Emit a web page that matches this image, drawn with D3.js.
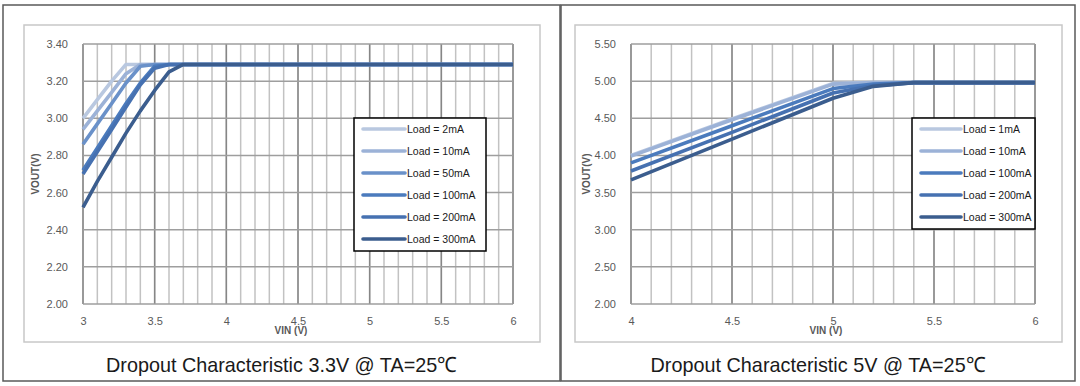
<!DOCTYPE html>
<html lang="en">
<head>
  <meta charset="UTF-8" />
  <title>Dropout Characteristic</title>
  <script src="https://d3js.org/d3.v7.min.js"></script>
  <style>
    html, body {
      margin: 0;
      padding: 0;
      background: #fff;
      font-family: "Liberation Sans", Arial, sans-serif;
    }
    svg {
      display: block;
    }
    .tick text {
      fill: #595959;
      font-size: 11px;
    }
  </style>
</head>
<body>
<svg width="1080" height="386"></svg>
<script>
  // ---- 3.3V chart data: [VIN, VOUT] points per load ----
  const labels33 = ["Load = 2mA", "Load = 10mA", "Load = 50mA", "Load = 100mA", "Load = 200mA", "Load = 300mA"];
  const load33_2mA   = [[3.0, 3.00], [3.1, 3.10], [3.2, 3.20], [3.3, 3.29], [6.0, 3.29]];
  const load33_10mA  = [[3.0, 2.94], [3.1, 3.04], [3.2, 3.14], [3.3, 3.24], [3.4, 3.29], [6.0, 3.29]];
  const load33_50mA  = [[3.0, 2.86], [3.1, 2.97], [3.2, 3.08], [3.3, 3.19], [3.4, 3.28], [3.5, 3.29], [6.0, 3.29]];
  const load33_100mA = [[3.0, 2.72], [3.1, 2.84], [3.2, 2.96], [3.3, 3.08], [3.4, 3.19], [3.5, 3.28], [3.6, 3.29], [6.0, 3.29]];
  const load33_200mA = [[3.0, 2.70], [3.1, 2.82], [3.2, 2.94], [3.3, 3.06], [3.4, 3.18], [3.5, 3.27], [3.6, 3.29], [6.0, 3.29]];
  const load33_300mA = [[3.0, 2.52], [3.1, 2.66], [3.2, 2.79], [3.3, 2.92], [3.4, 3.04], [3.5, 3.15], [3.6, 3.25], [3.7, 3.29], [6.0, 3.29]];

  // ---- 5V chart data ----
  const labels5 = ["Load = 1mA", "Load = 10mA", "Load = 100mA", "Load = 200mA", "Load = 300mA"];
  const load5_1mA   = [[4.0, 4.00], [4.5, 4.49], [5.0, 4.97], [5.2, 4.98], [6.0, 4.98]];
  const load5_10mA  = [[4.0, 3.99], [4.5, 4.48], [5.0, 4.96], [5.2, 4.98], [6.0, 4.98]];
  const load5_100mA = [[4.0, 3.90], [4.5, 4.40], [5.0, 4.90], [5.2, 4.96], [5.4, 4.98], [6.0, 4.98]];
  const load5_200mA = [[4.0, 3.79], [4.5, 4.31], [5.0, 4.84], [5.2, 4.94], [5.4, 4.98], [6.0, 4.98]];
  const load5_300mA = [[4.0, 3.67], [4.5, 4.22], [5.0, 4.77], [5.2, 4.93], [5.4, 4.98], [6.0, 4.98]];

  const colors33 = ["#b9c8e0", "#9cb2d7", "#6a91c9", "#4b7bbd", "#4671b1", "#3b5d8e"];
  const colors5  = ["#b9c8e0", "#9cb2d7", "#4b7bbd", "#4671b1", "#3b5d8e"];

  const svg = d3.select("svg");

  function drawPanel(opt) {
    const g = svg.append("g");

    // outer panel border + inner chart frame
    g.append("rect")
      .attr("x", opt.panel[0]).attr("y", opt.panel[1])
      .attr("width", opt.panel[2]).attr("height", opt.panel[3])
      .attr("fill", "#fff").attr("stroke", "#595959").attr("stroke-width", 1.5);
    g.append("rect")
      .attr("x", opt.frame[0]).attr("y", opt.frame[1])
      .attr("width", opt.frame[2]).attr("height", opt.frame[3])
      .attr("fill", "#fff").attr("stroke", "#c8c8c8").attr("stroke-width", 1.5);

    const x = d3.scaleLinear().domain(opt.xDomain).range([opt.plot[0], opt.plot[1]]);
    const y = d3.scaleLinear().domain(opt.yDomain).range([opt.plot[3], opt.plot[2]]);

    // gridlines
    const grid = g.append("g");
    grid.selectAll(".vminor")
      .data(x.ticks(opt.minorCount))
      .join("line")
      .attr("x1", d => x(d)).attr("x2", d => x(d))
      .attr("y1", y.range()[0]).attr("y2", y.range()[1])
      .attr("stroke", "#c2c2c2").attr("stroke-width", 1.5);
    grid.selectAll(".vmajor")
      .data(x.ticks(opt.majorCount))
      .join("line")
      .attr("x1", d => x(d)).attr("x2", d => x(d))
      .attr("y1", y.range()[0]).attr("y2", y.range()[1])
      .attr("stroke", "#868686").attr("stroke-width", 1.5);
    grid.selectAll(".hline")
      .data(y.ticks(7))
      .join("line")
      .attr("x1", x.range()[0]).attr("x2", x.range()[1])
      .attr("y1", d => y(d)).attr("y2", d => y(d))
      .attr("stroke", "#9e9e9e").attr("stroke-width", 1.5);

    // axes (labels only)
    g.append("g")
      .attr("transform", `translate(${opt.plot[0] - 12},0)`)
      .call(d3.axisLeft(y).ticks(7).tickFormat(d3.format(".2f")).tickSize(0))
      .call(a => a.select(".domain").remove());
    g.append("g")
      .attr("transform", `translate(0,${opt.plot[3] + 10})`)
      .call(d3.axisBottom(x).ticks(opt.majorCount).tickFormat(d3.format("")).tickSize(0))
      .call(a => a.select(".domain").remove());

    g.append("text")
      .attr("x", (opt.plot[0] + opt.plot[1]) / 2 - 7)
      .attr("y", opt.plot[3] + 30)
      .attr("text-anchor", "middle")
      .attr("font-size", 10).attr("font-weight", "bold").attr("fill", "#595959")
      .text("VIN (V)");
    g.append("text")
      .attr("transform", `translate(${opt.frame[0] + 15},${(opt.plot[2] + opt.plot[3]) / 2}) rotate(-90)`)
      .attr("text-anchor", "middle")
      .attr("font-size", 10).attr("font-weight", "bold").attr("fill", "#595959")
      .text("VOUT(V)");

    // series
    const line = d3.line().x(d => x(d[0])).y(d => y(d[1]));
    g.append("g").selectAll("path")
      .data(opt.series)
      .join("path")
      .attr("d", d => line(d))
      .attr("fill", "none")
      .attr("stroke", (d, i) => opt.colors[i])
      .attr("stroke-width", 3.6)
      .attr("stroke-linejoin", "round")
      .attr("stroke-linecap", "butt");

    // legend
    const lg = g.append("g");
    const rowH = 22;
    lg.append("rect")
      .attr("x", opt.legend[0]).attr("y", opt.legend[1])
      .attr("width", opt.legend[2]).attr("height", opt.labels.length * rowH + 1)
      .attr("fill", "#fff").attr("stroke", "#000").attr("stroke-width", 1.5);
    const rows = lg.selectAll(".row")
      .data(opt.labels)
      .join("g")
      .attr("transform", (d, i) => `translate(${opt.legend[0]},${opt.legend[1] + 11 + i * rowH})`);
    rows.append("line")
      .attr("x1", 9).attr("x2", opt.legendLine + 9)
      .attr("y1", 0).attr("y2", 0)
      .attr("stroke", (d, i) => opt.colors[i])
      .attr("stroke-width", 3.6)
      .attr("stroke-linecap", "round");
    rows.append("text")
      .attr("x", opt.legendLine + 11)
      .attr("y", 4)
      .attr("font-size", 10.5).attr("fill", "#1a1a1a")
      .text(d => d);

    // caption
    g.append("text")
      .attr("x", opt.panel[0] + opt.panel[2] / 2)
      .attr("y", 372)
      .attr("text-anchor", "middle")
      .attr("font-size", 21).attr("fill", "#1a1a1a")
      .attr("textLength", opt.titleWidth).attr("lengthAdjust", "spacingAndGlyphs")
      .text(opt.title);
  }

  drawPanel({
    panel: [3, 5, 557, 376],
    frame: [24, 25, 516, 317],
    plot: [83, 513, 44, 304],
    xDomain: [3, 6], yDomain: [2, 3.4],
    minorCount: 30, majorCount: 6,
    series: [load33_2mA, load33_10mA, load33_50mA, load33_100mA, load33_200mA, load33_300mA],
    labels: labels33, colors: colors33,
    legend: [354, 118, 132], legendLine: 42,
    title: "Dropout Characteristic 3.3V @ TA=25℃", titleWidth: 351
  });

  drawPanel({
    panel: [561, 5, 514, 376],
    frame: [575, 25, 487, 317],
    plot: [631, 1035, 44, 304],
    xDomain: [4, 6], yDomain: [2, 5.5],
    minorCount: 20, majorCount: 4,
    series: [load5_1mA, load5_10mA, load5_100mA, load5_200mA, load5_300mA],
    labels: labels5, colors: colors5,
    legend: [912, 118, 123], legendLine: 40,
    title: "Dropout Characteristic 5V @ TA=25℃", titleWidth: 335
  });
</script>
</body>
</html>
